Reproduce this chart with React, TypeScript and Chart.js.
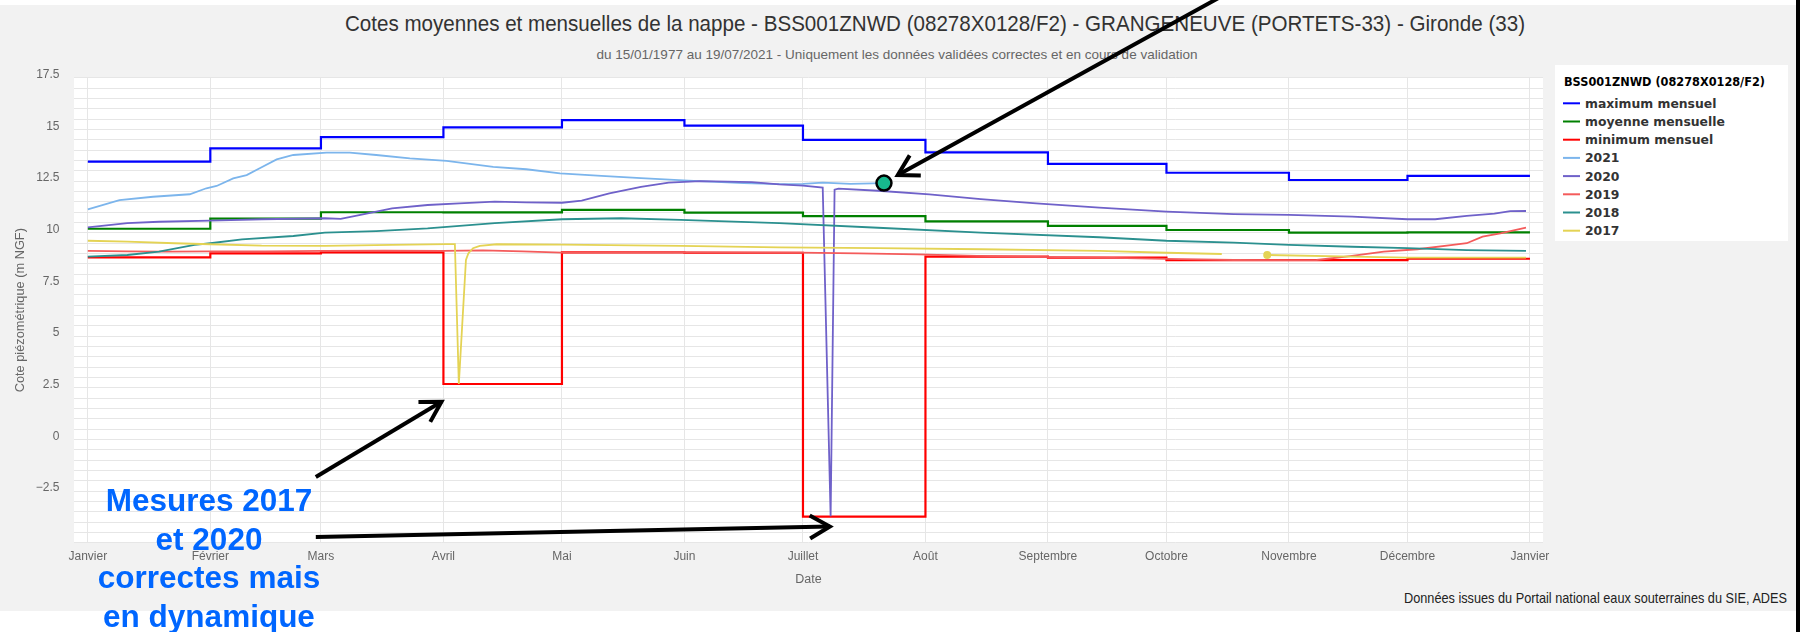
import React, { useEffect, useRef } from "react";
import { Chart, registerables } from "chart.js";

Chart.register(...registerables);

// ---------------- Data ----------------
const monthStarts = [0, 31, 59, 90, 120, 151, 181, 212, 243, 273, 304, 334, 365];
const monthLabels = ["Janvier", "Février", "Mars", "Avril", "Mai", "Juin", "Juillet", "Août", "Septembre", "Octobre", "Novembre", "Décembre", "Janvier"];

const maxMensuel = [13.44, 14.08, 14.62, 15.1, 15.45, 15.18, 14.49, 13.89, 13.33, 12.9, 12.55, 12.75];
const moyenneMensuelle = [10.19, 10.68, 10.99, 10.98, 11.1, 10.97, 10.8, 10.55, 10.33, 10.13, 10.0, 10.02];
const minimumMensuel = [8.81, 9.0, 9.05, 2.68, 9.05, 9.03, -3.74, 8.84, 8.79, 8.67, 8.67, 8.74];

const days2021 = [0, 8, 16.5, 25.8, 30, 32.6, 36.8, 40.2, 43.5, 47.8, 52, 60.4, 66.3, 73, 81.5, 90.8, 102.6, 111, 119.5, 130, 140, 152, 166, 175, 181, 186, 193, 201.5];
const cote2021 = [11.13, 11.58, 11.74, 11.86, 12.15, 12.26, 12.63, 12.79, 13.12, 13.55, 13.76, 13.87, 13.87, 13.76, 13.6, 13.48, 13.19, 13.07, 12.87, 12.75, 12.64, 12.52, 12.4, 12.35, 12.36, 12.42, 12.36, 12.4];

const days2020 = [0, 10, 18, 31, 44, 60, 64, 69, 77, 86, 94, 103, 111, 120, 125, 132, 140, 147, 155, 162, 168, 175, 181, 186, 188, 189, 190, 200, 213, 226, 240, 256, 273, 290, 304, 320, 334, 341, 349, 356, 360, 364];
const cote2020 = [10.26, 10.46, 10.53, 10.58, 10.65, 10.7, 10.67, 10.86, 11.18, 11.34, 11.42, 11.5, 11.47, 11.45, 11.55, 11.9, 12.22, 12.42, 12.5, 12.47, 12.45, 12.34, 12.28, 12.18, -3.72, 12.08, 12.13, 12.03, 11.85, 11.62, 11.42, 11.21, 11.02, 10.9, 10.86, 10.78, 10.65, 10.65, 10.81, 10.92, 11.04, 11.05];

const days2019 = [0, 10, 20, 31, 45, 60, 75, 90, 100, 110, 120, 135, 150, 165, 180, 195, 210, 225, 240, 256, 273, 290, 304, 311, 319.5, 328, 336.5, 345.5, 349, 353, 357.5, 364];
const cote2019 = [9.12, 9.1, 9.08, 9.1, 9.1, 9.12, 9.13, 9.12, 9.14, 9.1, 9.04, 9.05, 9.06, 9.05, 9.04, 9.0, 8.95, 8.88, 8.83, 8.79, 8.73, 8.68, 8.67, 8.68, 8.87, 9.08, 9.2, 9.41, 9.49, 9.81, 9.97, 10.24];

const days2018 = [0, 10, 18, 27, 31, 39, 52, 60, 73, 86, 103, 120, 135, 150, 175, 200, 226, 256, 273, 290, 304, 320, 334, 349, 364];
const cote2018 = [8.84, 8.92, 9.08, 9.41, 9.49, 9.68, 9.84, 10.0, 10.08, 10.21, 10.46, 10.65, 10.7, 10.62, 10.46, 10.24, 10.0, 9.78, 9.61, 9.52, 9.41, 9.32, 9.25, 9.16, 9.12];

const days2017 = [0, 10, 22, 31, 44, 60, 77, 91, 92.9, 93.9, 95.7, 96.3, 97.5, 99.2, 103.5, 120, 150, 175, 200, 226, 256, 273, 287, 292, 298.5, 320, 334, 364];
const cote2017 = [9.61, 9.57, 9.49, 9.44, 9.37, 9.36, 9.41, 9.45, 9.45, 2.68, 8.68, 9.0, 9.25, 9.36, 9.44, 9.42, 9.36, 9.29, 9.25, 9.2, 9.12, 9.03, 8.97, null, 8.92, 8.84, 8.79, 8.79];

const seriesLabels = ["maximum mensuel", "moyenne mensuelle", "minimum mensuel", "2021", "2020", "2019", "2018", "2017"];
const seriesColors = ["#0000ff", "#008000", "#ff0000", "#7cb5ec", "#6f61c9", "#f45b5b", "#2b908f", "#e4d354"];

// ---------------- Texts ----------------
const TITLE = "Cotes moyennes et mensuelles de la nappe - BSS001ZNWD (08278X0128/F2) - GRANGENEUVE (PORTETS-33) - Gironde (33)";
const SUBTITLE = "du 15/01/1977 au 19/07/2021 - Uniquement les données validées correctes et en cours de validation";
const FOOTER = "Données issues du Portail national eaux souterraines du SIE, ADES";
const LEGEND_TITLE = "BSS001ZNWD (08278X0128/F2)";
const Y_TITLE = "Cote piézométrique (m NGF)";
const X_TITLE = "Date";
const NOTE_LINES = ["Mesures 2017", "et 2020", "correctes mais", "en dynamique"];

// annotation arrows, anchored in data space: [day, cote]
const ARROWS = [
  { tail: [288, 21.55], head: [205, 12.79] },
  { tail: [57.7, -1.82], head: [89.5, 1.82] },
  { tail: [57.7, -4.72], head: [187.8, -4.22] },
];

const SANS = '"Liberation Sans", Arial, sans-serif';
const LEGEND_FONT = '"DejaVu Sans", Verdana, sans-serif';

const fmtY = (v: number) => {
  const s = String(v);
  return v < 0 ? "\u2212" + s.slice(1) : s;
};

export default function App() {
  const ref = useRef<HTMLCanvasElement>(null);

  useEffect(() => {
    const monthly = [maxMensuel, moyenneMensuelle, minimumMensuel];
    const yearDays = [days2021, days2020, days2019, days2018, days2017];
    const yearVals = [cote2021, cote2020, cote2019, cote2018, cote2017];

    const datasets: any[] = [];
    monthly.forEach((vals, i) => {
      datasets.push({
        label: seriesLabels[i],
        data: monthStarts.map((d, k) => ({ x: d, y: vals[Math.min(k, vals.length - 1)] })),
        borderColor: seriesColors[i],
        borderWidth: 2.2,
        stepped: true,
        pointRadius: 0,
        order: 8 - i,
      });
    });
    yearDays.forEach((days, j) => {
      const vals = yearVals[j];
      const gapIdx = vals.indexOf(null as any);
      const color = seriesColors[3 + j];
      datasets.push({
        label: seriesLabels[3 + j],
        data: days.map((d, k) => ({ x: d, y: vals[k] })),
        borderColor: color,
        backgroundColor: color,
        borderWidth: 1.8,
        spanGaps: false,
        pointRadius: (ctx: any) => (gapIdx >= 0 && ctx.dataIndex === gapIdx + 1 ? 4 : 0),
        pointBorderWidth: 0,
        pointBackgroundColor: color,
        order: 5 - j,
      });
    });
    // end-of-record marker of the current year
    datasets.push({
      label: "dernier",
      data: [{ x: days2021[days2021.length - 1], y: cote2021[cote2021.length - 1] }],
      showLine: false,
      pointRadius: 7.5,
      pointBorderWidth: 2.5,
      pointBorderColor: "#000000",
      pointBackgroundColor: "#17b98e",
      order: -1,
    });

    const plotBg = {
      id: "plotBg",
      beforeDraw(chart: any) {
        const { ctx, chartArea: a } = chart;
        ctx.save();
        ctx.fillStyle = "#ffffff";
        ctx.fillRect(a.left, a.top, a.right - a.left, a.bottom - a.top);
        ctx.restore();
      },
    };

    const arrowPlugin = {
      id: "arrows",
      afterDraw(chart: any) {
        const { ctx } = chart;
        const xs = chart.scales.x;
        const ys = chart.scales.y;
        ctx.save();
        ctx.strokeStyle = "#000000";
        ctx.lineWidth = 4;
        ctx.lineCap = "butt";
        ctx.lineJoin = "miter";
        ARROWS.forEach((a) => {
          const tx = xs.getPixelForValue(a.tail[0]);
          const ty = ys.getPixelForValue(a.tail[1]);
          const hx = xs.getPixelForValue(a.head[0]);
          const hy = ys.getPixelForValue(a.head[1]);
          const ang = Math.atan2(hy - ty, hx - tx);
          const L = 23;
          const sp = Math.PI / 6;
          ctx.beginPath();
          ctx.moveTo(tx, ty);
          ctx.lineTo(hx, hy);
          ctx.stroke();
          ctx.beginPath();
          ctx.moveTo(hx - L * Math.cos(ang - sp), hy - L * Math.sin(ang - sp));
          ctx.lineTo(hx, hy);
          ctx.lineTo(hx - L * Math.cos(ang + sp), hy - L * Math.sin(ang + sp));
          ctx.stroke();
        });
        ctx.restore();
      },
    };

    const chart = new Chart(ref.current as HTMLCanvasElement, {
      type: "line",
      data: { datasets },
      options: {
        animation: false,
        responsive: false,
        devicePixelRatio: 1,
        events: [],
        layout: { padding: { top: 77.7, left: 0, right: 259, bottom: 44.8 } },
        plugins: {
          legend: { display: false },
          title: { display: false },
          tooltip: { enabled: false },
        },
        elements: { line: { tension: 0 }, point: { radius: 0 } },
        scales: {
          x: {
            type: "linear",
            min: -3.5,
            max: 368.3,
            afterBuildTicks: (s: any) => {
              s.ticks = monthStarts.map((v) => ({ value: v }));
            },
            afterFit: (s: any) => {
              s.height = 44.5;
            },
            ticks: {
              autoSkip: false,
              maxRotation: 0,
              padding: 6.5,
              color: "#666666",
              font: { family: SANS, size: 12 },
              callback: (_v: any, i: number) => monthLabels[i],
            },
            grid: { color: "#e6e6e6", drawTicks: false, lineWidth: 1 },
            border: { display: false },
            title: {
              display: true,
              text: X_TITLE,
              color: "#666666",
              font: { family: SANS, size: 12.5 },
              padding: { top: 0, bottom: 0 },
            },
          },
          y: {
            type: "linear",
            min: -5,
            max: 17.5,
            afterFit: (s: any) => {
              s.width = 74;
            },
            ticks: {
              stepSize: 0.5,
              autoSkip: false,
              maxTicksLimit: 1000,
              padding: 14.5,
              labelOffset: -3,
              color: "#666666",
              font: { family: SANS, size: 12 },
              callback: (v: any) => {
                const n = Number(v);
                return Math.abs(n / 2.5 - Math.round(n / 2.5)) < 1e-9 && n > -5 ? fmtY(n) : "";
              },
            },
            grid: { color: "#e6e6e6", drawTicks: false, lineWidth: 1 },
            border: { display: false },
            title: {
              display: true,
              text: Y_TITLE,
              color: "#666666",
              font: { family: SANS, size: 12.8 },
              padding: { top: 12.5, bottom: 0 },
            },
          },
        },
      },
      plugins: [plotBg, arrowPlugin],
    } as any);
    return () => chart.destroy();
  }, []);

  const legendTop = 103.3;
  const legendStep = 18.2;

  return (
    <div style={{ position: "absolute", left: 0, top: 0, width: 1802, height: 632, overflow: "hidden", background: "#ffffff" }}>
      <div style={{ position: "absolute", left: 0, top: 5, width: 1796, height: 606, background: "#f2f2f2" }} />
      <svg width={1802} height={632} style={{ position: "absolute", left: 0, top: 0 }}>
        <text x={935} y={31} textAnchor="middle" fill="#333333" fontFamily={SANS} fontSize={22} textLength={1180} lengthAdjust="spacingAndGlyphs">
          {TITLE}
        </text>
        <text x={897} y={58.7} textAnchor="middle" fill="#666666" fontFamily={SANS} fontSize={13} textLength={601} lengthAdjust="spacingAndGlyphs">
          {SUBTITLE}
        </text>
        <text x={1787} y={603} textAnchor="end" fill="#222222" fontFamily={SANS} fontSize={14.5} textLength={383} lengthAdjust="spacingAndGlyphs">
          {FOOTER}
        </text>
        <rect x={1555} y={65} width={233} height={176} fill="#ffffff" />
        <text x={1564} y={86} fill="#000000" fontFamily={LEGEND_FONT} fontWeight="bold" fontSize={11.5} textLength={201} lengthAdjust="spacingAndGlyphs">
          {LEGEND_TITLE}
        </text>
        {seriesLabels.map((lab, i) => {
          const cy = legendTop + i * legendStep;
          return (
            <g key={lab}>
              <line x1={1563} x2={1580} y1={cy} y2={cy} stroke={seriesColors[i]} strokeWidth={2} />
              <text x={1585} y={cy + 4.5} fill="#333333" fontFamily={LEGEND_FONT} fontWeight="bold" fontSize={12.4}>
                {lab}
              </text>
            </g>
          );
        })}
      </svg>
      <canvas ref={ref} width={1802} height={632} style={{ position: "absolute", left: 0, top: 0, width: 1802, height: 632, display: "block" }} />
      <svg width={1802} height={632} style={{ position: "absolute", left: 0, top: 0 }}>
        {NOTE_LINES.map((t, i) => (
          <text key={t} x={209} y={511 + i * 38.5} textAnchor="middle" fill="#0066ff" fontFamily={SANS} fontWeight="bold" fontSize={31.5}>
            {t}
          </text>
        ))}
      </svg>
      <div style={{ position: "absolute", left: 1796, top: 0, width: 4, height: 632, background: "#000000" }} />
    </div>
  );
}
